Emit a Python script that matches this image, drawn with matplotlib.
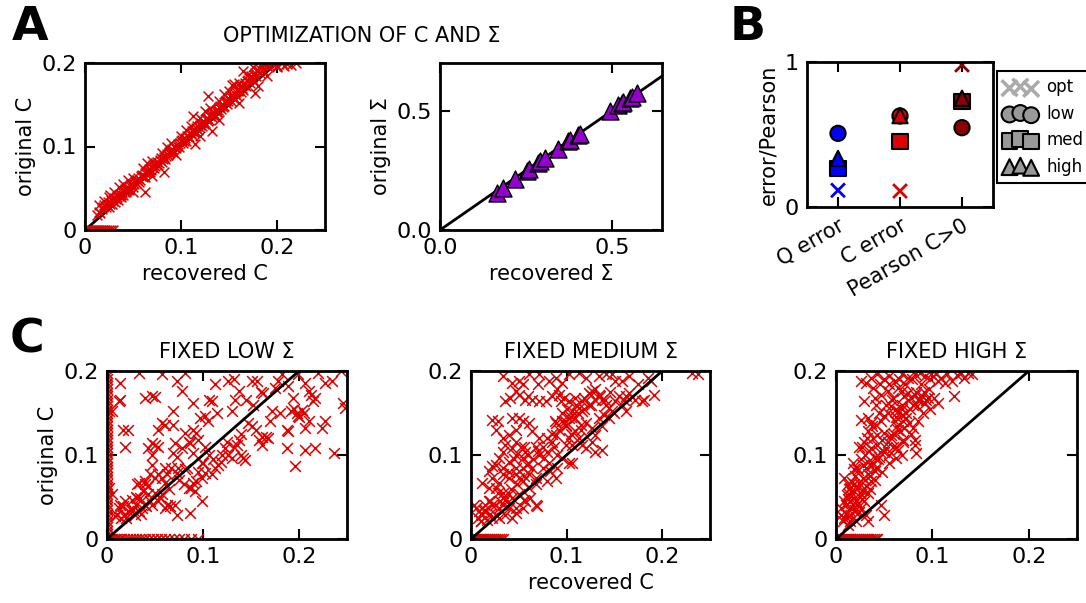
#recovery of C and Sigma: scatter panels A, B, C
import numpy as np
import matplotlib.pyplot as plt

plt.rcParams['font.family'] = ['DejaVu Sans']

RED = '#dd0000'
W, H = 1086., 603.

#---- panel A left: recovered vs original C (optimized) ----
a_rec = [0.012,0.015,0.018,0.020,0.022,0.024,0.025,0.027,0.028,0.030,
         0.031,0.033,0.034,0.036,0.037,0.039,0.040,0.042,0.043,0.045,
         0.046,0.048,0.050,0.052,0.053,0.055,0.057,0.058,0.060,0.062,
         0.063,0.066,0.068,0.070,0.072,0.074,0.076,0.078,0.080,0.082,
         0.083,0.085,0.087,0.088,0.090,0.092,0.093,0.095,0.097,0.098,
         0.100,0.102,0.104,0.105,0.107,0.110,0.112,0.113,0.115,0.117,
         0.118,0.120,0.122,0.123,0.125,0.127,0.128,0.130,0.132,0.133,
         0.135,0.137,0.138,0.140,0.142,0.143,0.145,0.147,0.148,0.150,
         0.152,0.153,0.155,0.157,0.158,0.160,0.162,0.163,0.165,0.167,
         0.168,0.170,0.172,0.173,0.175,0.177,0.178,0.180,0.182,0.183,
         0.185,0.187,0.190,0.195,0.200,0.210,0.220,
         0.062,0.082,0.115,0.132,0.177,0.207,0.113,0.153,0.026,0.128,
         0.016,0.019,0.023,0.026,0.029,0.032,0.035,0.038,0.041,0.044,
         0.047,0.051,0.054,0.056,0.059,0.061,0.064,0.067,0.069,0.071,
         0.073,0.075,0.077,0.079,0.081,0.084,0.086,0.089,0.091,0.094,
         0.096,0.099,0.101,0.103,0.106,0.108,0.111,0.114,0.116,0.119,
         0.121,0.124,0.126,0.129,0.131,0.134,0.136,0.139,0.141,0.144,
         0.146,0.149,0.151,0.154,0.156,0.159,0.161,0.164,0.166,0.169,
         0.171,0.174,0.176,0.179,0.181,0.184,0.186,0.189,0.192,0.198,
         0.020,0.030,0.040,0.050,0.060,0.070,0.080,0.090,0.100,0.110,
         0.120,0.130,0.140,0.150,0.160,0.170,0.175,0.165,0.155,0.145,
         0.125,0.105,0.085,0.065,0.045,0.035,0.025,0.015,
         0.050,0.070,0.095,0.120,0.140,0.160,0.180,0.190,0.200,0.205,0.215]
a_orig = [0.018,0.022,0.025,0.030,0.027,0.033,0.028,0.036,0.031,0.038,
          0.034,0.040,0.036,0.043,0.039,0.046,0.042,0.049,0.045,0.051,
          0.048,0.055,0.052,0.058,0.056,0.062,0.060,0.065,0.063,0.068,
          0.064,0.071,0.070,0.076,0.074,0.079,0.078,0.084,0.082,0.088,
          0.085,0.091,0.092,0.094,0.096,0.094,0.100,0.098,0.103,0.100,
          0.106,0.104,0.110,0.107,0.113,0.116,0.113,0.119,0.118,0.124,
          0.120,0.126,0.125,0.131,0.128,0.134,0.130,0.137,0.135,0.140,
          0.138,0.144,0.141,0.147,0.145,0.150,0.148,0.155,0.151,0.157,
          0.155,0.162,0.158,0.165,0.161,0.168,0.165,0.172,0.168,0.176,
          0.172,0.180,0.176,0.184,0.180,0.188,0.185,0.192,0.188,0.196,
          0.192,0.199,0.196,0.199,0.197,0.199,0.200,
          0.046,0.069,0.103,0.119,0.164,0.196,0.137,0.174,0.042,0.160,
          0.020,0.027,0.030,0.031,0.035,0.037,0.041,0.042,0.047,0.048,
          0.053,0.055,0.060,0.058,0.066,0.065,0.069,0.073,0.072,0.078,
          0.077,0.081,0.080,0.086,0.085,0.089,0.090,0.095,0.097,0.099,
          0.101,0.104,0.108,0.106,0.112,0.111,0.118,0.117,0.122,0.123,
          0.128,0.127,0.133,0.132,0.139,0.137,0.142,0.144,0.149,0.147,
          0.153,0.154,0.160,0.158,0.163,0.166,0.171,0.170,0.174,0.178,
          0.182,0.182,0.186,0.190,0.194,0.196,0.198,0.199,0.198,0.199,
          0.035,0.045,0.055,0.062,0.074,0.083,0.092,0.104,0.113,0.124,
          0.134,0.146,0.155,0.166,0.176,0.186,0.195,0.190,0.175,0.163,
          0.142,0.120,0.100,0.080,0.060,0.052,0.040,0.030,
          0.045,0.065,0.090,0.113,0.132,0.152,0.172,0.185,0.195,0.200,0.198]
a_zero_rec = [0.001,0.003,0.005,0.007,0.009,0.011,0.013,0.015,0.017,0.019,
              0.021,0.023,0.025,0.027,0.029]

#---- panel A right: recovered vs original Sigma ----
s_rec = [0.165,0.184,0.218,0.254,0.260,0.286,0.291,0.305,0.344,0.373,
         0.378,0.402,0.407,0.494,0.518,0.528,0.531,0.552,0.557,0.572]
s_orig = [0.157,0.178,0.213,0.247,0.254,0.282,0.289,0.303,0.338,0.372,
          0.379,0.400,0.404,0.497,0.525,0.532,0.535,0.553,0.557,0.574]

#---- panel B: errors / Pearson ----
b_cats = ['Q error', 'C error', 'Pearson C>0']
b_colors = ['blue', RED, '#8b0000']
b_opt = [0.115, 0.11, 0.98]
b_low = [0.508, 0.628, 0.547]
b_med = [0.266, 0.45, 0.727]
b_high = [0.335, 0.63, 0.75]

#---- panel C: fixed Sigma ----
c1_rec = [0.033,0.057,0.081,0.014,0.073,0.078,0.040,0.047,0.050,0.014,
          0.012,0.005,0.069,0.090,0.106,0.109,0.113,0.126,0.132,0.137,
          0.133,0.130,0.151,0.156,0.152,0.163,0.175,0.178,0.182,0.189,
          0.194,0.199,0.220,0.206,0.210,0.213,0.215,0.217,0.227,0.234,
          0.244,0.246,0.248,0.192,0.198,0.203,0.199,0.206,0.224,0.227,
          0.187,0.189,0.187,0.206,0.217,0.236,0.196,0.161,0.166,0.168,
          0.172,0.147,0.151,0.158,0.161,0.137,0.135,0.140,0.142,0.144,
          0.132,0.130,0.123,0.126,0.119,0.116,0.113,0.109,0.102,0.099,
          0.093,0.090,0.088,0.092,0.085,0.081,0.083,0.074,0.073,0.067,
          0.062,0.060,0.057,0.053,0.050,0.045,0.040,0.043,0.033,0.031,
          0.038,0.043,0.034,0.031,0.026,0.019,0.017,0.014,0.012,0.010,
          0.008,0.015,0.019,0.022,0.027,0.029,0.033,0.036,0.040,0.041,
          0.047,0.053,0.057,0.060,0.062,0.066,0.071,0.073,0.086,0.099,
          0.057,0.060,0.069,0.053,0.017,0.022,0.019,0.043,0.047,0.050,
          0.053,0.071,0.078,0.086,0.095,0.093,0.097,0.102,0.081,0.073,
          0.047,0.069,0.090,0.102,0.106,0.099,0.047,0.002,0.002,0.005,
          0.020,0.025,0.030,0.035,0.045,0.050,0.055,0.065,0.075,0.080,
          0.095,0.100,0.110,0.120,0.125,0.140,0.155,0.170,0.180,0.195,
          0.200,0.205,0.210,0.160,0.145,0.085,0.090,0.105,0.115,0.060,
          0.040,0.030]
c1_orig = [0.198,0.196,0.198,0.186,0.188,0.176,0.168,0.170,0.169,0.166,
           0.164,0.152,0.152,0.162,0.166,0.164,0.184,0.188,0.190,0.176,
           0.166,0.152,0.188,0.188,0.160,0.174,0.180,0.188,0.196,0.182,
           0.168,0.196,0.198,0.186,0.176,0.172,0.164,0.168,0.186,0.188,
           0.200,0.162,0.156,0.152,0.150,0.154,0.146,0.132,0.132,0.140,
           0.130,0.128,0.108,0.106,0.108,0.102,0.087,0.122,0.122,0.120,
           0.152,0.138,0.134,0.118,0.112,0.118,0.112,0.100,0.096,0.094,
           0.110,0.096,0.108,0.100,0.092,0.088,0.085,0.077,0.079,0.073,
           0.069,0.067,0.061,0.057,0.061,0.083,0.085,0.085,0.079,0.085,
           0.077,0.067,0.073,0.077,0.073,0.077,0.069,0.063,0.067,0.065,
           0.057,0.053,0.049,0.049,0.047,0.045,0.039,0.041,0.037,0.029,
           0.027,0.025,0.029,0.033,0.035,0.029,0.033,0.037,0.041,0.039,
           0.041,0.045,0.053,0.037,0.041,0.039,0.041,0.029,0.031,0.045,
           0.138,0.136,0.136,0.130,0.130,0.130,0.110,0.108,0.114,0.112,
           0.110,0.114,0.108,0.114,0.118,0.126,0.144,0.146,0.126,0.098,
           0.088,0.102,0.102,0.110,0.100,0.090,0.100,0.152,0.061,0.053,
           0.025,0.035,0.040,0.030,0.045,0.055,0.050,0.060,0.070,0.065,
           0.080,0.090,0.095,0.100,0.115,0.125,0.130,0.140,0.150,0.155,
           0.145,0.150,0.140,0.175,0.165,0.115,0.130,0.140,0.150,0.085,
           0.065,0.050]
c1_edge_orig = [0.002,0.006,0.010,0.014,0.018,0.022,0.026,0.030,0.034,0.038,
                0.042,0.046,0.050,0.054,0.058,0.062,0.066,0.070,0.074,0.078,
                0.082,0.086,0.090,0.094,0.098,0.102,0.106,0.110,0.114,0.118,
                0.122,0.126,0.130,0.134,0.138,0.142,0.146,0.150,0.154,0.158,
                0.162,0.166,0.170,0.174,0.178,0.182,0.186,0.190,0.194,0.198]
c1_zero_rec = [0.001,0.003,0.005,0.007,0.009,0.012,0.015,0.018,0.021,0.024,
               0.027,0.030,0.033,0.036,0.040,0.044,0.048,0.052,0.056,0.060,
               0.065,0.070,0.075,0.080,0.087,0.095]

c2_rec = [0.033,0.043,0.050,0.054,0.061,0.071,0.082,0.089,0.095,0.102,
          0.113,0.120,0.134,0.141,0.148,0.151,0.158,0.165,0.188,0.191,
          0.181,0.172,0.179,0.231,0.237,0.036,0.041,0.047,0.050,0.057,
          0.064,0.071,0.078,0.085,0.092,0.094,0.097,0.102,0.109,0.116,
          0.123,0.127,0.130,0.134,0.137,0.141,0.144,0.148,0.151,0.155,
          0.162,0.165,0.162,0.158,0.123,0.116,0.113,0.106,0.102,0.095,
          0.089,0.099,0.109,0.120,0.127,0.130,0.137,0.144,0.139,0.134,
          0.115,0.113,0.102,0.099,0.106,0.116,0.120,0.127,0.130,0.137,
          0.089,0.085,0.080,0.076,0.082,0.071,0.068,0.071,0.064,0.061,
          0.054,0.050,0.043,0.047,0.040,0.033,0.026,0.028,0.022,0.047,
          0.052,0.057,0.054,0.047,0.043,0.036,0.033,0.029,0.022,0.019,
          0.026,0.033,0.040,0.047,0.054,0.059,0.061,0.064,0.068,0.075,
          0.083,0.089,0.090,0.095,0.102,0.106,0.080,0.068,0.061,0.054,
          0.050,0.047,0.040,0.033,0.029,0.022,0.012,0.019,0.026,0.033,
          0.040,0.036,0.043,0.050,0.057,0.062,0.068,0.054,0.047,0.040,
          0.033,0.029,0.022,0.019,0.015,0.014,0.012,0.008,0.007,0.005,
          0.003,0.010,0.017,0.022,0.026,0.029,0.036,0.043,0.047,0.069,
          0.055,0.087,0.090,0.099,0.109,
          0.010,0.015,0.020,0.025,0.030,0.035,0.042,0.048,0.055,0.060,
          0.065,0.070,0.075,0.080,0.085,0.092,0.098,0.105,0.112,0.118,
          0.125,0.130,0.135,0.140,0.145,0.125,0.118,0.110,0.100,0.095,
          0.088,0.105,0.115,0.060,0.055,0.045,0.040,0.028,0.020,0.010,
          0.150,0.160,0.175,0.185,0.070,0.090,0.060]
c2_orig = [0.194,0.186,0.188,0.184,0.196,0.196,0.188,0.192,0.186,0.196,
           0.198,0.192,0.194,0.196,0.196,0.188,0.188,0.194,0.188,0.172,
           0.166,0.166,0.164,0.198,0.197,0.164,0.168,0.176,0.172,0.166,
           0.166,0.164,0.164,0.170,0.172,0.164,0.168,0.164,0.168,0.164,
           0.174,0.176,0.178,0.172,0.166,0.160,0.156,0.152,0.164,0.170,
           0.170,0.174,0.152,0.160,0.160,0.152,0.156,0.152,0.144,0.140,
           0.138,0.136,0.144,0.138,0.132,0.124,0.134,0.144,0.148,0.144,
           0.136,0.120,0.120,0.112,0.112,0.112,0.108,0.116,0.104,0.106,
           0.124,0.116,0.104,0.096,0.090,0.100,0.110,0.120,0.128,0.138,
           0.140,0.144,0.144,0.130,0.124,0.120,0.130,0.140,0.142,0.116,
           0.110,0.104,0.096,0.100,0.108,0.112,0.104,0.096,0.087,0.081,
           0.088,0.085,0.092,0.085,0.085,0.088,0.077,0.085,0.073,0.085,
           0.081,0.073,0.085,0.096,0.090,0.090,0.069,0.065,0.061,0.069,
           0.073,0.077,0.073,0.077,0.067,0.073,0.067,0.061,0.061,0.055,
           0.053,0.047,0.049,0.053,0.045,0.049,0.041,0.037,0.037,0.037,
           0.041,0.037,0.041,0.045,0.041,0.033,0.029,0.033,0.025,0.037,
           0.041,0.021,0.023,0.025,0.029,0.025,0.029,0.025,0.031,0.039,
           0.047,0.110,0.100,0.134,0.128,
           0.030,0.035,0.030,0.040,0.045,0.050,0.060,0.065,0.075,0.090,
           0.095,0.105,0.110,0.120,0.125,0.130,0.140,0.145,0.150,0.155,
           0.160,0.165,0.170,0.165,0.175,0.172,0.168,0.160,0.155,0.150,
           0.140,0.125,0.130,0.100,0.110,0.095,0.080,0.055,0.045,0.022,
           0.150,0.165,0.185,0.192,0.185,0.178,0.170]
c2_zero_rec = [0.001,0.003,0.005,0.007,0.009,0.011,0.013,0.015,0.017,0.019,
               0.021,0.023,0.025,0.027,0.029,0.031,0.033]

c3_rec = [0.026,0.031,0.036,0.043,0.050,0.055,0.061,0.068,0.075,0.082,
          0.087,0.092,0.099,0.106,0.109,0.113,0.120,0.130,0.137,0.141,
          0.122,0.029,0.040,0.047,0.054,0.059,0.064,0.068,0.071,0.075,
          0.078,0.082,0.085,0.089,0.092,0.095,0.102,0.106,0.068,0.064,
          0.061,0.057,0.054,0.050,0.047,0.041,0.036,0.033,0.026,0.061,
          0.068,0.073,0.076,0.080,0.071,0.064,0.057,0.050,0.043,0.038,
          0.033,0.029,0.024,0.036,0.043,0.048,0.054,0.059,0.064,0.068,
          0.062,0.055,0.050,0.045,0.040,0.033,0.028,0.022,0.019,0.031,
          0.036,0.040,0.033,0.028,0.024,0.019,0.015,0.012,0.008,0.014,
          0.019,0.026,0.022,0.031,0.036,0.029,0.022,0.015,0.010,0.005,
          0.005,0.008,0.014,0.019,0.026,0.031,0.033,0.021,0.012,0.007,
          0.047,0.050,0.082,0.083,0.082,0.069,
          0.010,0.013,0.016,0.018,0.021,0.024,0.027,0.012,0.017,0.023,
          0.028,0.033,0.030,0.035,0.038,0.042,0.044,0.026,0.030,0.034,
          0.046,0.052,0.057,0.060,0.063,0.066,0.070,0.073,0.077,0.080,
          0.084,0.087,0.091,0.096,0.052,0.058,0.045,0.042,0.038,0.046,
          0.055,0.065,0.072,0.079,0.088,0.097,0.104,0.115,0.125,0.133,
          0.090,0.085,0.078,0.070,0.062,0.055,0.048,0.040,0.035,0.025,
          0.020,0.015,0.062,0.068,0.075,0.083,0.093,0.098,
          0.008,0.011,0.014,0.017,0.020,0.023,0.018,0.027,0.032,0.037]
c3_orig = [0.188,0.186,0.192,0.196,0.190,0.194,0.188,0.196,0.192,0.196,
           0.198,0.194,0.196,0.188,0.192,0.186,0.188,0.198,0.198,0.196,
           0.170,0.164,0.168,0.172,0.176,0.168,0.180,0.176,0.170,0.174,
           0.168,0.172,0.166,0.170,0.162,0.168,0.168,0.162,0.160,0.152,
           0.154,0.158,0.150,0.146,0.140,0.136,0.138,0.144,0.142,0.140,
           0.148,0.144,0.138,0.132,0.132,0.130,0.124,0.126,0.124,0.120,
           0.128,0.116,0.110,0.108,0.112,0.118,0.116,0.110,0.106,0.100,
           0.096,0.100,0.104,0.098,0.096,0.092,0.088,0.085,0.083,0.085,
           0.087,0.081,0.077,0.073,0.067,0.065,0.061,0.065,0.073,0.053,
           0.049,0.053,0.059,0.063,0.069,0.045,0.041,0.045,0.041,0.037,
           0.029,0.025,0.027,0.033,0.037,0.029,0.021,0.021,0.017,0.021,
           0.041,0.029,0.118,0.102,0.112,0.116,
           0.030,0.035,0.028,0.040,0.045,0.032,0.048,0.048,0.055,0.062,
           0.058,0.055,0.070,0.075,0.090,0.085,0.095,0.095,0.100,0.105,
           0.103,0.108,0.120,0.125,0.135,0.128,0.140,0.150,0.155,0.160,
           0.158,0.165,0.175,0.178,0.160,0.165,0.150,0.160,0.180,0.185,
           0.185,0.190,0.185,0.190,0.185,0.190,0.197,0.196,0.195,0.192,
           0.150,0.140,0.125,0.118,0.110,0.090,0.080,0.070,0.060,0.050,
           0.035,0.022,0.145,0.155,0.165,0.175,0.165,0.155,
           0.045,0.052,0.060,0.068,0.075,0.082,0.090,0.110,0.120,0.135]
c3_zero_rec = [0.001,0.003,0.005,0.007,0.009,0.011,0.013,0.015,0.017,0.019,
               0.021,0.023,0.025,0.027,0.029,0.031,0.033,0.035,0.037,0.039,
               0.041,0.043]

diag = [0, 0.2]
XKW = dict(marker='x', c=RED, s=60, linewidths=1.1)


def rect(left, top, right, bottom):
    #pixel box -> figure fraction
    return [left / W, 1 - bottom / H, (right - left) / W, (bottom - top) / H]


def style(ax):
    for sp in ax.spines.values():
        sp.set_linewidth(2)
    ax.tick_params(direction='in', length=7, width=1.5, top=True, right=True,
                   labelsize=16, pad=6)


def c_panel(ax, rec, orig, zero_rec):
    ax.scatter(zero_rec, [0] * len(zero_rec), zorder=2, **XKW)
    ax.scatter(rec, orig, zorder=2, **XKW)
    ax.plot(diag, diag, color='k', lw=2, zorder=3)
    ax.set_xlim(0, 0.25)
    ax.set_ylim(0, 0.2)
    ax.set_xticks([0, 0.1, 0.2])
    ax.set_xticklabels(['0', '0.1', '0.2'])
    ax.set_yticks([0, 0.1, 0.2])
    ax.set_yticklabels(['0', '0.1', '0.2'])
    style(ax)


fig = plt.figure(figsize=(W / 100, H / 100), dpi=100)

#A left
ax = fig.add_axes(rect(85, 63, 325, 230))
ax.plot(diag, diag, color='k', lw=2, zorder=1)
ax.scatter(a_rec, a_orig, zorder=2, marker='x', c=RED, s=50, linewidths=1.1)
ax.scatter(a_zero_rec, [0] * len(a_zero_rec), zorder=2, marker='x', c=RED, s=50, linewidths=1.1)
ax.set_xlim(0, 0.25)
ax.set_ylim(0, 0.2)
ax.set_xticks([0, 0.1, 0.2])
ax.set_xticklabels(['0', '0.1', '0.2'])
ax.set_yticks([0, 0.1, 0.2])
ax.set_yticklabels(['0', '0.1', '0.2'])
ax.set_xlabel('recovered C', fontsize=15)
ax.set_ylabel('original C', fontsize=15)
style(ax)

#A right
ax = fig.add_axes(rect(440, 63, 662, 230))
ax.plot([0, 0.7], [0, 0.7], color='k', lw=2, zorder=1)
ax.scatter(s_rec, s_orig, marker='^', c='#9400cc', edgecolors='k', s=150,
           linewidths=1, zorder=2)
ax.set_xlim(0, 0.645)
ax.set_ylim(0, 0.7)
ax.set_xticks([0, 0.5])
ax.set_yticks([0, 0.5])
ax.set_xticklabels(['0.0', '0.5'])
ax.set_yticklabels(['0.0', '0.5'])
ax.set_xlabel('recovered Σ', fontsize=15)
ax.set_ylabel('original Σ', fontsize=15)
style(ax)

fig.text(362 / W, 1 - 36 / H, 'OPTIMIZATION OF C AND Σ', fontsize=15, ha='center', va='center')

#B
ax = fig.add_axes(rect(807, 62, 993, 207))
xs = np.arange(len(b_cats))
ax.scatter(xs, b_opt, marker='x', c=b_colors, s=100, linewidths=2, zorder=2)
ax.scatter(xs, b_low, marker='o', c=b_colors, edgecolors='k', s=120, linewidths=1.5, zorder=3)
ax.scatter(xs, b_med, marker='s', c=b_colors, edgecolors='k', s=120, linewidths=1.5, zorder=4)
ax.scatter(xs, b_high, marker='^', c=b_colors, edgecolors='k', s=120, linewidths=1.5, zorder=5)
ax.set_xlim(-0.5, 2.5)
ax.set_ylim(0, 1)
ax.set_xticks(xs)
ax.set_xticklabels(b_cats, rotation=30, ha='right', rotation_mode='anchor')
ax.set_yticks([0, 1])
ax.set_yticklabels(['0', '1'])
ax.set_ylabel('error/Pearson', fontsize=15)
style(ax)
ax.tick_params(axis='x', labelsize=15)

grey = '#999999'
h1 = ax.scatter([], [], marker='x', c='#aaaaaa', s=130, linewidths=2.5, label='opt')
h2 = ax.scatter([], [], marker='o', c=grey, edgecolors='k', s=130, linewidths=1.5, label='low')
h3 = ax.scatter([], [], marker='s', c=grey, edgecolors='k', s=130, linewidths=1.5, label='med')
h4 = ax.scatter([], [], marker='^', c=grey, edgecolors='k', s=130, linewidths=1.5, label='high')
leg = fig.legend(handles=[h1, h2, h3, h4], loc='upper left', bbox_to_anchor=(997 / W, 1 - 71 / H),
                 scatterpoints=3, fontsize=12, fancybox=False, framealpha=1,
                 edgecolor='k', borderpad=0.45, handletextpad=0.6, labelspacing=0.5,
                 handlelength=1.9, borderaxespad=0)
leg.get_frame().set_linewidth(1.5)

#C panels
ax1 = fig.add_axes(rect(107, 371, 347, 539))
ax1.scatter([0] * len(c1_edge_orig), c1_edge_orig, zorder=2, **XKW)
c_panel(ax1, c1_rec, c1_orig, c1_zero_rec)
ax1.set_ylabel('original C', fontsize=15)
ax1.set_title('FIXED LOW Σ', fontsize=15, pad=9)

ax2 = fig.add_axes(rect(471, 371, 710, 539))
c_panel(ax2, c2_rec, c2_orig, c2_zero_rec)
ax2.set_xlabel('recovered C', fontsize=15)
ax2.set_title('FIXED MEDIUM Σ', fontsize=15, pad=9)

ax3 = fig.add_axes(rect(836, 371, 1077, 539))
c_panel(ax3, c3_rec, c3_orig, c3_zero_rec)
ax3.set_title('FIXED HIGH Σ', fontsize=15, pad=9)

#panel letters
fig.text(12 / W, 1 - 28 / H, 'A', fontsize=34, fontweight='bold', va='center')
fig.text(730 / W, 1 - 28 / H, 'B', fontsize=34, fontweight='bold', va='center')
fig.text(10 / W, 1 - 340 / H, 'C', fontsize=34, fontweight='bold', va='center')

fig.savefig('out.png', dpi=100)
